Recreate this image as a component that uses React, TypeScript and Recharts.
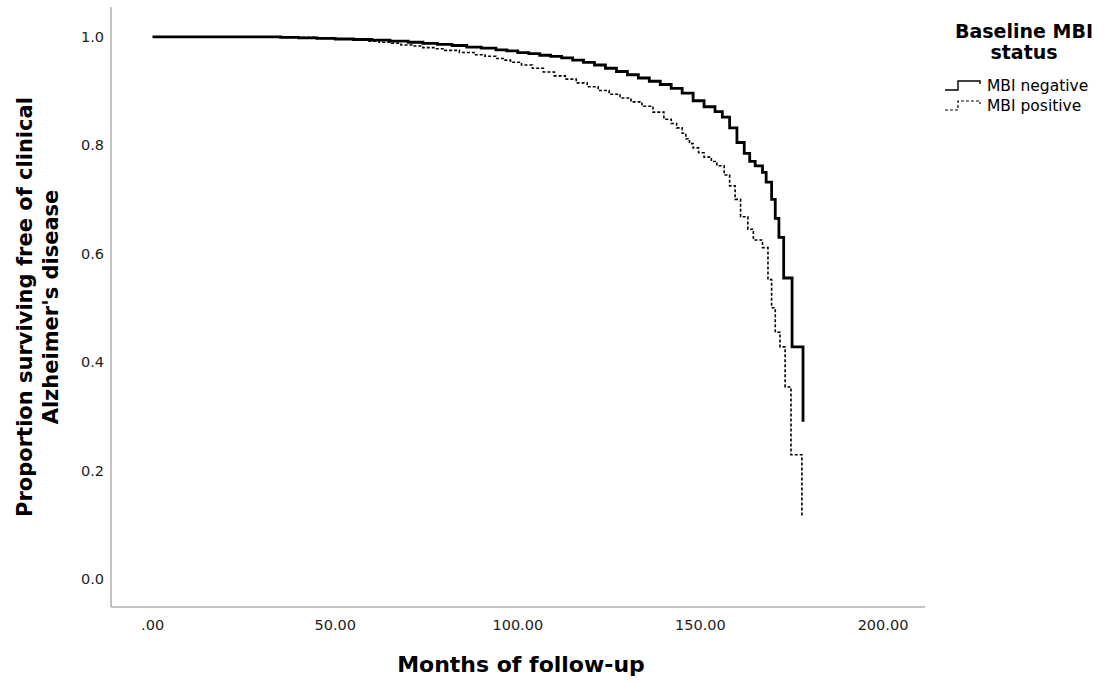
import { LineChart, Line, XAxis, YAxis, Label } from 'recharts';

// Kaplan-Meier estimates
const negMonths = [0, 20, 35, 40, 45, 50, 55, 60, 65, 70, 74, 78, 82, 86, 90, 94, 97, 100, 103, 106, 109, 112, 115, 118, 121, 124, 127, 130, 133, 136, 139, 142, 145, 148, 151, 154, 156, 158, 160, 162, 163.5, 165, 167, 168, 169.5, 170.5, 171.5, 172.8, 175.1, 178.1];
const negSurv = [1.0, 1.0, 0.999, 0.998, 0.997, 0.996, 0.995, 0.994, 0.992, 0.99, 0.988, 0.986, 0.984, 0.981, 0.979, 0.976, 0.974, 0.971, 0.969, 0.966, 0.964, 0.961, 0.957, 0.953, 0.948, 0.942, 0.936, 0.93, 0.924, 0.918, 0.912, 0.905, 0.896, 0.882, 0.871, 0.862, 0.852, 0.832, 0.805, 0.785, 0.77, 0.762, 0.75, 0.732, 0.7, 0.665, 0.63, 0.555, 0.428, 0.29];

const posMonths = [0, 20, 35, 45, 50, 55, 59, 62, 65, 68, 71, 74, 77, 80, 84, 88, 91, 94, 96, 98, 101, 104, 107, 110, 113, 116, 119, 122, 125, 128, 131, 134, 137, 140, 142, 143.5, 145, 146, 147, 148, 149.5, 151, 153, 154.5, 156.5, 158, 159.5, 161, 163, 164.5, 167, 168.5, 169.5, 170.5, 171.8, 173.2, 174.8, 177.8];
const posSurv = [1.0, 1.0, 0.999, 0.997, 0.996, 0.994, 0.992, 0.99, 0.988, 0.985, 0.983, 0.98, 0.978, 0.975, 0.971, 0.967, 0.964, 0.96, 0.957, 0.953, 0.948, 0.942, 0.935, 0.928, 0.922, 0.915, 0.908, 0.901, 0.894, 0.887, 0.88, 0.872, 0.861, 0.848, 0.84, 0.832, 0.822, 0.812, 0.803, 0.795, 0.786, 0.778, 0.77, 0.762, 0.745, 0.725, 0.7, 0.668, 0.645, 0.625, 0.611, 0.552, 0.5, 0.455, 0.428, 0.354, 0.229, 0.114];

const xTicks = [0, 50, 100, 150, 200];
const yTicks = [0, 0.2, 0.4, 0.6, 0.8, 1.0];

const negData = negMonths.map((m, i) => ({ m, s: negSurv[i] }));
const posData = posMonths.map((m, i) => ({ m, s: posSurv[i] }));

const FONT = '"DejaVu Sans", Verdana, sans-serif';

const YTitle = () => (
  <g fontFamily={FONT} fontWeight="bold" fontSize={21} fill="#000">
    <text x={32} y={307} textAnchor="middle" transform="rotate(-90, 32, 307)">
      Proportion surviving free of clinical
    </text>
    <text x={58} y={307} textAnchor="middle" transform="rotate(-90, 58, 307)">
      Alzheimer's disease
    </text>
  </g>
);

const XTitle = () => (
  <text x={521} y={672} textAnchor="middle" fontFamily={FONT} fontWeight="bold" fontSize={22} fill="#000">
    Months of follow-up
  </text>
);

const StepIcon = ({ dashed }: { dashed?: boolean }) => (
  <svg width={38} height={14} style={{ display: 'block' }}>
    <path
      d="M0 11 H13 V2 H35 V5"
      fill="none"
      stroke="#000"
      strokeWidth={dashed ? 1.2 : 1.4}
      strokeDasharray={dashed ? '3 2' : undefined}
    />
  </svg>
);

// legend drawn outside the chart so it doesn't eat plot space
const KMLegend = () => (
  <div style={{ position: 'absolute', left: 930, top: 21, width: 188, fontFamily: FONT, color: '#000' }}>
    <div style={{ textAlign: 'center', fontWeight: 'bold', fontSize: 19, lineHeight: '21px' }}>
      Baseline MBI
      <br />
      status
    </div>
    <div style={{ marginTop: 13, marginLeft: 15, fontSize: 15.5, lineHeight: '20px' }}>
      <div style={{ display: 'flex', alignItems: 'center' }}>
        <StepIcon />
        <span style={{ marginLeft: 4 }}>MBI negative</span>
      </div>
      <div style={{ display: 'flex', alignItems: 'center' }}>
        <StepIcon dashed />
        <span style={{ marginLeft: 4 }}>MBI positive</span>
      </div>
    </div>
  </div>
);

export default function App() {
  return (
    <div style={{ position: 'absolute', left: 0, top: 0, width: 1118, height: 684, background: '#fff' }}>
      <LineChart width={1118} height={684} margin={{ top: 7, right: 193, bottom: 47, left: 51 }}>
        <XAxis
          dataKey="m"
          type="number"
          domain={[-11.4, 211.5]}
          ticks={xTicks}
          tickFormatter={(v: number) => (v === 0 ? '.00' : v.toFixed(2))}
          height={30}
          tickLine={false}
          tickSize={0}
          tickMargin={13}
          axisLine={{ stroke: '#888' }}
          tick={{ fill: '#222', fontSize: 14.5, fontFamily: FONT }}
        >
          <Label content={() => <XTitle />} />
        </XAxis>
        <YAxis
          dataKey="s"
          type="number"
          domain={[-0.052, 1.055]}
          ticks={yTicks}
          tickFormatter={(v: number) => v.toFixed(1)}
          width={60}
          tickLine={false}
          tickSize={0}
          tickMargin={7}
          axisLine={{ stroke: '#888' }}
          tick={{ fill: '#222', fontSize: 14.5, fontFamily: FONT }}
        >
          <Label content={() => <YTitle />} />
        </YAxis>
        <Line
          data={negData}
          dataKey="s"
          name="MBI negative"
          type="stepAfter"
          stroke="#000"
          strokeWidth={2.8}
          dot={false}
          isAnimationActive={false}
        />
        <Line
          data={posData}
          dataKey="s"
          name="MBI positive"
          type="stepAfter"
          stroke="#000"
          strokeWidth={1.6}
          strokeDasharray="3 2"
          dot={false}
          isAnimationActive={false}
        />
      </LineChart>
      <KMLegend />
    </div>
  );
}
